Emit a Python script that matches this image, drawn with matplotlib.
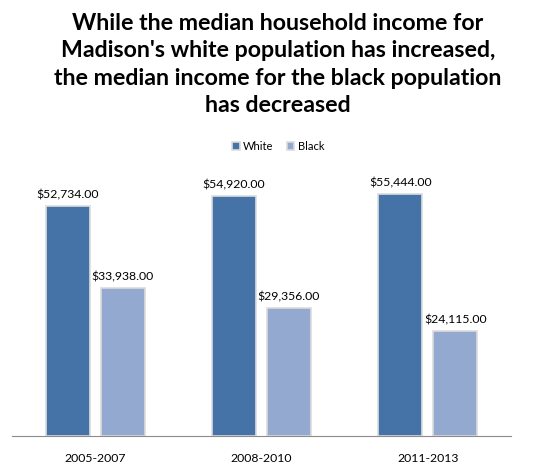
import numpy as np
import matplotlib.pyplot as plt

periods = ["2005-2007", "2008-2010", "2011-2013"]
white = [52734, 54920, 55444]
black = [33938, 29356, 24115]

plt.rcParams['font.family'] = ['Lato', 'DejaVu Sans']

fig = plt.figure(figsize=(5.56, 4.68), dpi=100)
ax = fig.add_axes([0.0216, 0.0684, 0.8975, 0.5598])

x = np.arange(len(periods))
w = 0.265
off = 0.165
b1 = ax.bar(x - off, white, w, color='#4572A7', edgecolor='#dcdcdc', linewidth=1.2, label='White')
b2 = ax.bar(x + off, black, w, color='#93A9CF', edgecolor='#dcdcdc', linewidth=1.2, label='Black')

for bars in (b1, b2):
    for r in bars:
        ax.text(r.get_x() + r.get_width() / 2, r.get_height() + 1300,
                "${:,.2f}".format(r.get_height()), ha='center', va='bottom', fontsize=8.8)

ax.set_xlim(-0.5, 2.5)
ax.set_ylim(0, 60000)
ax.set_xticks(x)
ax.set_xticklabels(periods, fontsize=8.8)
ax.tick_params(axis='x', length=0, pad=12)
ax.set_yticks([])
for s in ('top', 'right', 'left'):
    ax.spines[s].set_visible(False)
ax.spines['bottom'].set_color('#8c8c8c')

fig.text(0.5, 0.972, "While the median household income for\nMadison's white population has increased,\n"
         "the median income for the black population\nhas decreased",
         ha='center', va='top', fontsize=16.7, fontweight='bold', linespacing=1.37)

fig.legend(handles=[b1, b2], loc='center', bbox_to_anchor=(0.5, 0.688), ncol=2, frameon=False,
           fontsize=8, handlelength=0.7, handleheight=0.7, handletextpad=0.3, columnspacing=1.2)

fig.savefig('out.png', dpi=100)
